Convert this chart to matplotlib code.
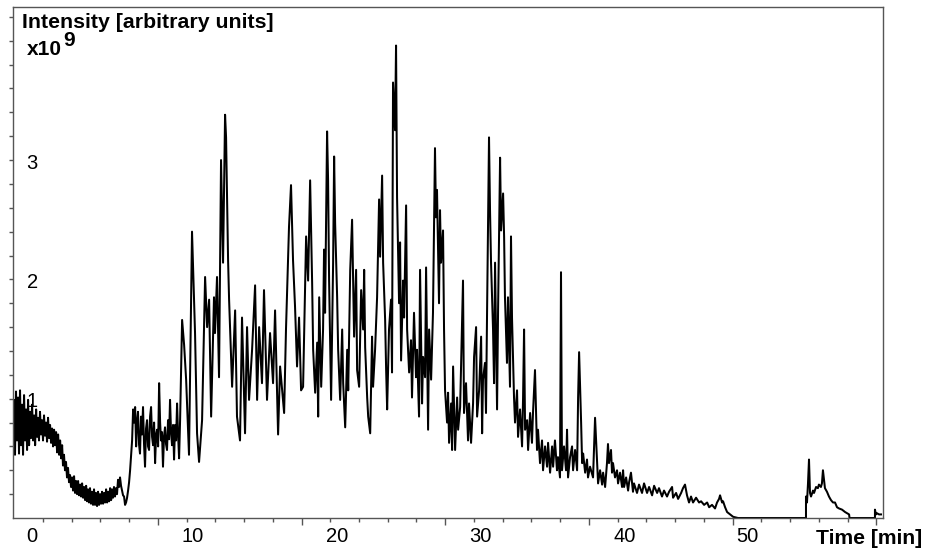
import numpy as np
import matplotlib.pyplot as plt

plt.rcParams['font.family'] = ['Liberation Sans', 'DejaVu Sans']

# (retention time [min], intensity [x1e9])
early = [(-2.64, 1.03), (-2.58, 0.57), (-2.51, 0.99), (-2.44, 0.53), (-2.37, 1.06), (-2.30, 0.65),
         (-2.23, 1.01), (-2.16, 0.54), (-2.09, 1.07), (-2.02, 0.61), (-1.95, 0.95), (-1.88, 0.53),
         (-1.81, 1.03), (-1.74, 0.65), (-1.67, 0.91), (-1.60, 0.57), (-1.53, 0.99), (-1.46, 0.61),
         (-1.39, 0.89), (-1.32, 0.67), (-1.25, 0.95), (-1.18, 0.65), (-1.11, 0.86), (-1.04, 0.61),
         (-0.97, 0.91), (-0.90, 0.68), (-0.84, 0.84), (-0.77, 0.65), (-0.70, 0.89), (-0.63, 0.70),
         (-0.56, 0.82), (-0.49, 0.65), (-0.42, 0.86), (-0.35, 0.69), (-0.28, 0.80), (-0.21, 0.64),
         (-0.14, 0.84), (-0.07, 0.67), (0.00, 0.78), (0.07, 0.63), (0.14, 0.75), (0.21, 0.60),
         (0.28, 0.74), (0.35, 0.61), (0.42, 0.72), (0.49, 0.55), (0.56, 0.70), (0.63, 0.53),
         (0.70, 0.65), (0.77, 0.50), (0.84, 0.61), (0.90, 0.44), (0.97, 0.53), (1.04, 0.40),
         (1.11, 0.47), (1.18, 0.34), (1.25, 0.42), (1.32, 0.30), (1.39, 0.36), (1.46, 0.26),
         (1.53, 0.34), (1.60, 0.23), (1.67, 0.35), (1.74, 0.21), (1.81, 0.31), (1.88, 0.20),
         (1.95, 0.31), (2.02, 0.19), (2.09, 0.28), (2.16, 0.18), (2.23, 0.29), (2.30, 0.17),
         (2.37, 0.26), (2.44, 0.15), (2.51, 0.27), (2.58, 0.14), (2.64, 0.24), (2.71, 0.13),
         (2.78, 0.25), (2.85, 0.12), (2.92, 0.22), (2.99, 0.11), (3.06, 0.24), (3.13, 0.11),
         (3.20, 0.21), (3.27, 0.10), (3.34, 0.22), (3.41, 0.11), (3.48, 0.20), (3.55, 0.12),
         (3.62, 0.22), (3.69, 0.12), (3.76, 0.21), (3.83, 0.13), (3.90, 0.24), (3.97, 0.13),
         (4.04, 0.22), (4.11, 0.14), (4.18, 0.25), (4.25, 0.15), (4.31, 0.24), (4.38, 0.17),
         (4.45, 0.26), (4.52, 0.18), (4.59, 0.25), (4.66, 0.20), (4.73, 0.32), (4.80, 0.26),
         (4.87, 0.34), (4.94, 0.27), (5.01, 0.23), (5.08, 0.19), (5.15, 0.18), (5.22, 0.11),
         (5.29, 0.13), (5.36, 0.17), (5.43, 0.23), (5.50, 0.30), (5.57, 0.40), (5.64, 0.52),
         (5.71, 0.65), (5.78, 0.91)]

plateau = [(5.85, 0.80), (5.92, 0.93), (5.99, 0.60), (6.05, 0.80), (6.12, 0.89), (6.19, 0.62),
           (6.26, 0.54), (6.33, 0.85), (6.40, 0.70), (6.47, 0.93), (6.54, 0.62), (6.61, 0.43),
           (6.68, 0.75), (6.75, 0.82), (6.82, 0.60), (6.89, 0.57), (6.96, 0.85), (7.03, 0.93),
           (7.10, 0.68), (7.17, 0.61), (7.24, 0.80), (7.31, 0.46), (7.38, 0.70), (7.45, 0.74),
           (7.52, 0.60), (7.59, 1.13), (7.66, 0.80), (7.72, 0.65), (7.79, 0.72), (7.86, 0.43),
           (7.93, 0.68), (8.00, 0.76), (8.07, 0.62), (8.14, 0.57), (8.21, 0.82), (8.28, 0.66),
           (8.35, 0.99), (8.42, 0.72), (8.49, 0.61), (8.56, 0.78), (8.63, 0.49), (8.70, 0.78),
           (8.77, 0.65), (8.84, 0.96), (8.91, 0.70), (8.98, 0.50), (9.05, 0.82)]

rise = [(9.19, 1.66), (9.33, 1.45), (9.47, 1.16), (9.67, 0.53), (9.88, 2.40), (10.09, 1.55),
        (10.23, 0.71), (10.37, 0.47), (10.58, 0.82), (10.79, 2.02), (10.93, 1.60), (11.07, 1.83),
        (11.21, 0.85), (11.41, 1.85), (11.48, 1.55), (11.62, 2.02), (11.76, 1.18), (11.90, 3.00),
        (12.04, 2.14), (12.18, 3.38), (12.25, 3.19), (12.39, 2.16), (12.46, 1.83), (12.67, 1.10),
        (12.88, 1.74), (13.01, 0.85), (13.22, 0.65), (13.36, 1.68), (13.57, 0.71), (13.71, 1.60),
        (13.85, 0.99), (14.06, 1.41), (14.27, 1.95), (14.41, 0.99), (14.55, 1.60), (14.75, 1.13),
        (14.89, 1.91), (15.10, 0.99), (15.31, 1.55), (15.52, 1.13), (15.66, 1.74), (15.87, 0.70),
        (16.01, 1.27), (16.29, 0.88), (16.42, 1.58), (16.63, 2.44), (16.77, 2.79), (16.91, 2.16),
        (17.05, 1.77), (17.19, 1.27), (17.33, 1.68), (17.47, 1.07)]

middle = [(17.61, 1.10), (17.82, 2.36), (17.96, 1.99), (18.10, 2.83), (18.24, 1.97), (18.31, 1.41),
          (18.45, 1.05), (18.59, 1.47), (18.66, 0.85), (18.73, 1.85), (18.87, 1.10), (19.00, 1.58),
          (19.07, 2.25), (19.14, 1.72), (19.28, 3.24), (19.35, 2.83), (19.42, 1.99), (19.56, 0.99),
          (19.70, 2.14), (19.77, 3.03), (19.84, 2.47), (19.98, 1.85), (20.05, 1.41), (20.19, 0.99),
          (20.33, 1.58), (20.40, 1.13), (20.54, 0.76), (20.68, 1.41), (20.75, 1.07), (20.89, 2.08),
          (21.02, 2.50), (21.09, 1.99), (21.16, 1.52), (21.30, 2.08), (21.37, 1.24), (21.51, 1.10),
          (21.65, 1.91), (21.79, 1.58), (21.86, 2.08), (21.93, 1.43), (22.07, 1.01), (22.14, 0.85),
          (22.28, 0.71), (22.41, 1.52), (22.48, 1.10), (22.62, 1.41), (22.76, 1.85), (22.90, 2.67),
          (22.97, 2.19), (23.11, 2.87), (23.18, 2.14), (23.32, 1.66), (23.39, 1.24), (23.46, 0.91),
          (23.59, 1.58), (23.73, 1.83), (23.80, 1.22), (23.87, 3.65), (24.01, 3.25), (24.08, 3.96),
          (24.15, 2.69), (24.29, 1.80), (24.36, 2.31), (24.43, 1.32), (24.57, 1.99), (24.64, 1.68),
          (24.78, 2.62), (24.85, 1.58), (24.99, 1.22), (25.12, 1.49), (25.19, 1.01), (25.33, 1.72),
          (25.47, 1.18), (25.54, 1.41), (25.68, 0.85), (25.75, 2.08), (25.89, 0.96), (25.96, 1.35),
          (26.10, 1.18), (26.17, 2.10), (26.31, 0.74), (26.38, 1.58), (26.52, 1.16), (26.65, 1.72),
          (26.79, 3.10), (26.86, 2.52), (26.93, 2.75), (27.07, 1.80), (27.14, 2.58), (27.21, 2.14),
          (27.35, 2.41), (27.42, 1.58), (27.49, 1.07), (27.63, 0.80), (27.70, 1.05), (27.77, 0.63),
          (27.91, 0.96), (27.98, 0.57), (28.05, 1.27), (28.19, 0.57), (28.33, 1.01), (28.40, 0.74),
          (28.54, 0.93), (28.67, 1.63), (28.74, 1.99), (28.81, 0.88), (28.95, 1.13), (29.09, 0.65),
          (29.16, 0.96), (29.30, 0.63), (29.44, 0.96), (29.51, 1.35), (29.65, 1.60), (29.72, 0.85),
          (29.86, 1.07), (30.00, 1.52), (30.07, 0.71), (30.13, 1.16), (30.27, 1.30), (30.34, 0.88),
          (30.41, 1.68), (30.55, 3.19), (30.62, 2.58), (30.69, 2.14), (30.83, 1.58), (30.90, 1.13),
          (30.97, 2.14), (31.11, 0.91), (31.18, 1.74), (31.32, 3.02), (31.39, 2.41), (31.53, 2.72),
          (31.60, 2.36), (31.66, 1.85), (31.80, 1.30), (31.87, 1.85), (32.01, 1.10), (32.08, 2.36),
          (32.15, 1.68), (32.29, 1.01), (32.36, 0.80), (32.50, 1.07), (32.57, 0.68), (32.71, 0.91),
          (32.85, 0.60), (32.92, 1.01), (32.99, 1.58), (33.06, 0.74), (33.20, 0.82), (33.27, 0.57),
          (33.41, 0.88), (33.54, 0.63), (33.61, 0.88), (33.75, 1.24), (33.89, 0.57), (33.96, 0.74),
          (34.10, 0.46), (34.24, 0.65), (34.31, 0.40), (34.45, 0.60), (34.59, 0.43), (34.66, 0.63),
          (34.80, 0.38), (34.94, 0.60), (35.01, 0.43), (35.14, 0.65), (35.28, 0.40), (35.35, 0.51),
          (35.49, 0.34), (35.56, 2.06), (35.63, 0.40), (35.77, 0.60), (35.91, 0.40), (35.98, 0.74),
          (36.05, 0.34), (36.19, 0.51), (36.33, 0.60), (36.40, 0.40), (36.54, 0.57), (36.68, 0.40),
          (36.75, 1.01), (36.82, 1.39), (36.96, 0.80), (37.03, 0.46), (37.10, 0.54), (37.24, 0.38),
          (37.37, 0.49), (37.44, 0.34), (37.58, 0.43)]

tail = [(37.79, 0.34), (37.93, 0.84), (38.07, 0.46), (38.14, 0.29), (38.28, 0.40), (38.42, 0.28),
        (38.49, 0.38), (38.63, 0.26), (38.76, 0.46), (38.83, 0.62), (38.90, 0.46), (39.04, 0.57),
        (39.11, 0.38), (39.18, 0.46), (39.32, 0.34), (39.46, 0.40), (39.53, 0.29), (39.67, 0.38),
        (39.81, 0.26), (39.88, 0.40), (39.95, 0.26), (40.09, 0.34), (40.23, 0.23), (40.30, 0.30),
        (40.43, 0.38), (40.57, 0.22), (40.64, 0.29), (40.85, 0.21), (40.99, 0.28), (41.20, 0.21),
        (41.34, 0.29), (41.55, 0.21), (41.69, 0.26), (41.90, 0.19), (42.04, 0.27), (42.25, 0.21),
        (42.38, 0.25), (42.59, 0.18), (42.73, 0.23), (42.94, 0.18), (43.08, 0.22), (43.29, 0.26),
        (43.36, 0.17), (43.57, 0.21), (43.71, 0.16), (43.92, 0.21), (44.05, 0.25), (44.19, 0.28),
        (44.33, 0.19), (44.47, 0.13), (44.61, 0.18), (44.75, 0.13), (44.96, 0.17), (45.17, 0.13),
        (45.31, 0.14), (45.52, 0.11), (45.73, 0.13), (45.87, 0.09), (46.07, 0.11), (46.28, 0.08),
        (46.42, 0.13), (46.56, 0.16), (46.63, 0.19), (46.77, 0.13), (46.84, 0.14), (46.98, 0.09),
        (47.12, 0.05), (47.33, 0.03), (47.54, 0.01), (47.88, 0.0), (52.61, 0.0)]

late = [(52.61, 0.18), (52.68, 0.13), (52.75, 0.29), (52.82, 0.49), (52.89, 0.21), (52.96, 0.18),
        (53.10, 0.23), (53.17, 0.21), (53.31, 0.26), (53.44, 0.25), (53.51, 0.28), (53.65, 0.26),
        (53.72, 0.29), (53.79, 0.40), (53.93, 0.25), (54.07, 0.22), (54.21, 0.18), (54.35, 0.15),
        (54.49, 0.13), (54.63, 0.13), (54.77, 0.09), (54.91, 0.08), (55.12, 0.07), (55.33, 0.05),
        (55.47, 0.04), (55.61, 0.03), (55.64, 0.0), (57.41, 0.0), (57.41, 0.07), (57.48, 0.03),
        (57.55, 0.04), (57.69, 0.03), (57.83, 0.03)]

x_labels = ["0", "10", "20", "30", "40", "50"]
x_label_pos = [-1.25, 9.95, 19.97, 29.92, 40.01, 48.5]
y_labels = ["1", "2", "3"]
y_label_pos = [1, 2, 3]

segments = [early, plateau, rise, middle, tail, late]
rt = [p[0] for seg in segments for p in seg]
signal = [p[1] for seg in segments for p in seg]

W, H = 929, 549
fig = plt.figure(figsize=(W / 100, H / 100), dpi=100)
ax = fig.add_axes([12.7 / W, 31 / H, (883 - 12.7) / W, (518 - 7) / H])

ax.plot(rt, signal, color="black", lw=1.45)
ax.set_xlim(-2.6, 57.97)
ax.set_ylim(0, 4.283)

spine_col = "#555555"
for s in ax.spines.values():
    s.set_color(spine_col)
    s.set_linewidth(1.0)

ax.set_xticks(np.arange(7.5, 58, 10))
ax.set_xticks(np.arange(-0.5, 58, 2), minor=True)
ax.set_yticks([1, 2, 3])
ax.set_yticks(np.arange(0.2, 4.25, 0.2), minor=True)
ax.tick_params(which="both", direction="out", color=spine_col, width=1.0,
               labelbottom=False, labelleft=False)
ax.tick_params(axis="x", which="major", length=5)
ax.tick_params(axis="x", which="minor", length=3)
ax.tick_params(axis="y", which="both", length=3)

for pos, lab in zip(x_label_pos, x_labels):
    ax.text(pos, -0.036, lab, transform=ax.get_xaxis_transform(),
            ha="center", va="center", fontsize=14.5)
for pos, lab in zip(y_label_pos, y_labels):
    ax.text(-1.25, pos - 0.025, lab, ha="center", va="center", fontsize=14.5)

fig.text(21.7 / W, 1 - 28 / H, "Intensity [arbitrary units]", fontsize=15.3,
         fontweight="bold", ha="left", va="baseline")
fig.text(26.7 / W, 1 - 55 / H, "x10", fontsize=15, fontweight="bold",
         ha="left", va="baseline")
fig.text(63 / W, 1 - 46 / H, "9", fontsize=15, fontweight="bold",
         ha="left", va="baseline")
fig.text(922 / W, 1 - 544 / H, "Time [min]", fontsize=15.2, fontweight="bold",
         ha="right", va="baseline")

fig.savefig("out.png", dpi=100)
